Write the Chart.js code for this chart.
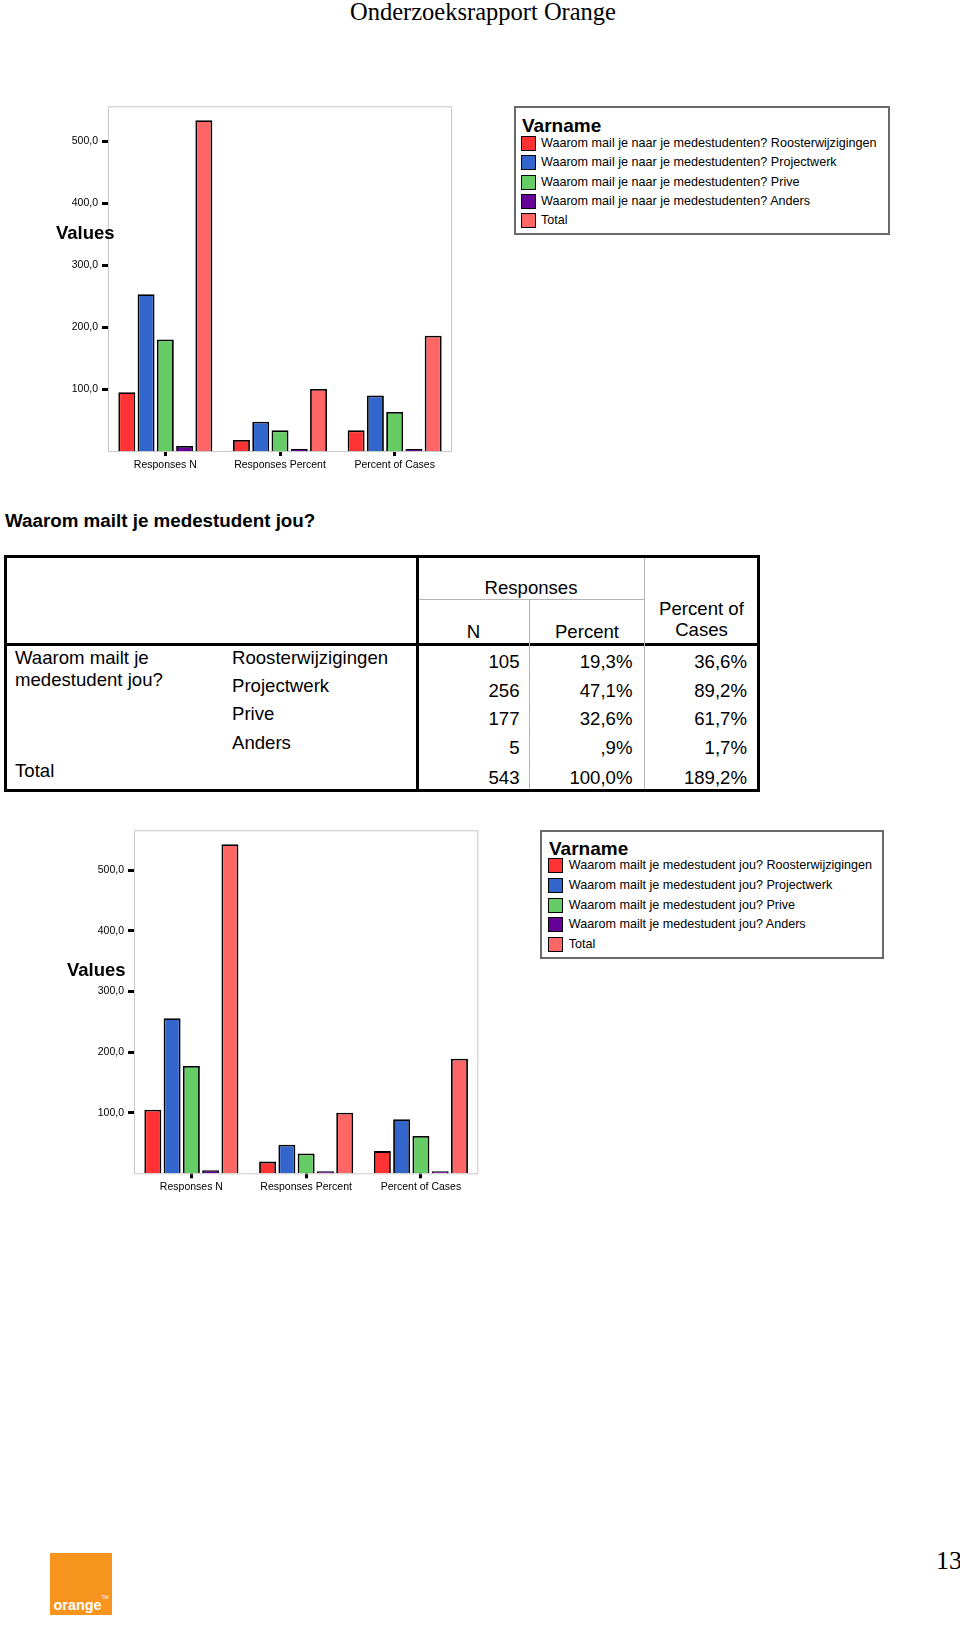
<!DOCTYPE html>
<html>
<head>
<meta charset="utf-8">
<title>Onderzoeksrapport Orange</title>
<script src="https://cdn.jsdelivr.net/npm/chart.js@4.4.1/dist/chart.umd.min.js"></script>
<style>
  html, body { margin: 0; padding: 0; background: #fff; }
  body { width: 960px; height: 1628px; position: relative; overflow: hidden;
         font-family: "Liberation Sans", Arial, sans-serif; color: #000; }
  .abs { position: absolute; white-space: nowrap; }
  .chartbox { position: absolute; width: 470px; height: 390px; }
  .values { font-weight: bold; font-size: 18.5px; line-height: 22px; }
  .legend { position: absolute; box-sizing: border-box; border: 2px solid #6a6a6a; }
  .varname { font-weight: bold; font-size: 19px; line-height: 22px; }
  .sw { position: absolute; box-sizing: border-box; width: 15px; height: 15px; border: 1px solid #000; }
  .ltext { font-size: 12.6px; line-height: 15px; }
  .cell { font-size: 18.6px; line-height: 22px; }
  .line { position: absolute; background: #000; }
  .thin { position: absolute; background: #b4b4b4; }
</style>
</head>
<body>

<div class="abs" style="left:0;width:966px;top:-3px;text-align:center;font-family:'Liberation Serif','Times New Roman',serif;font-size:24.5px;line-height:30px;">Onderzoeksrapport Orange</div>

<!-- chart 1 -->
<div class="chartbox" style="left:0;top:96px;"><canvas id="chart1"></canvas></div>
<div class="abs values" style="left:56px;top:222px;">Values</div>
<div class="legend" style="left:514px;top:106px;width:376px;height:129px;"></div>
<div class="abs varname" style="left:522px;top:115px;">Varname</div>
<div id="legend1"></div>

<!-- table -->
<div class="abs" style="left:5px;top:510px;font-weight:bold;font-size:18.8px;line-height:22px;">Waarom mailt je medestudent jou?</div>
<div id="table"></div>

<!-- chart 2 -->
<div class="chartbox" style="left:26px;top:820px;"><canvas id="chart2"></canvas></div>
<div class="abs values" style="left:67px;top:959px;">Values</div>
<div class="legend" style="left:540px;top:830px;width:344px;height:129px;"></div>
<div class="abs varname" style="left:549px;top:838px;">Varname</div>
<div id="legend2"></div>

<!-- footer -->
<div class="abs" style="left:49.5px;top:1553px;width:62px;height:62px;background:#f7941d;">
  <span class="abs" style="left:4px;bottom:3px;color:#fff;font-weight:bold;font-size:14.4px;line-height:14.4px;">orange</span>
  <span class="abs" style="left:52px;bottom:15px;color:#fff;font-size:5px;line-height:5px;">TM</span>
</div>
<div class="abs" style="left:936px;top:1548px;font-family:'Liberation Serif','Times New Roman',serif;font-size:26px;line-height:26px;">13</div>

<script>
Chart.defaults.font.family = '"Liberation Sans", Arial, sans-serif';
Chart.defaults.color = '#000';

const categories = ['Responses N', 'Responses Percent', 'Percent of Cases'];
const yTickValues = [100, 200, 300, 400, 500];
const yTickLabels = ['100,0', '200,0', '300,0', '400,0', '500,0'];
const seriesColors = ['#ff3333', '#3366cc', '#66cc66', '#660099', '#ff6666'];

// first chart: Waarom mail je naar je medestudenten?
const mailNames = [
  'Waarom mail je naar je medestudenten? Roosterwijzigingen',
  'Waarom mail je naar je medestudenten? Projectwerk',
  'Waarom mail je naar je medestudenten? Prive',
  'Waarom mail je naar je medestudenten? Anders',
  'Total'
];
const mailRooster = [95, 17.8, 33.3];
const mailProject = [253, 47.4, 89.5];
const mailPrive = [180, 33.3, 63];
const mailAnders = [8, 1.5, 2.7];
const mailTotal = [534, 100, 186];

// second chart + table: Waarom mailt je medestudent jou?
const answers = ['Roosterwijzigingen', 'Projectwerk', 'Prive', 'Anders'];
const respN = [105, 256, 177, 5, 543];
const respPercent = [19.3, 47.1, 32.6, 0.9, 100.0];
const casePercent = [36.6, 89.2, 61.7, 1.7, 189.2];
const mailtNames = answers.map(a => 'Waarom mailt je medestudent jou? ' + a).concat(['Total']);

const framePlugin = {
  id: 'frame',
  beforeDatasetsDraw(chart) {
    const { ctx, chartArea: a } = chart;
    ctx.save();
    ctx.strokeStyle = '#c8c8c8';
    ctx.lineWidth = 1;
    ctx.strokeRect(a.left + 0.5, a.top + 0.5, a.right - a.left - 1, a.bottom - a.top);
    ctx.restore();
  }
};

function makeChart(id, names, series, yMax, padRight, xHeight) {
  return new Chart(document.getElementById(id), {
    type: 'bar',
    data: {
      labels: categories,
      datasets: series.map((d, i) => ({
        label: names[i],
        data: d,
        backgroundColor: seriesColors[i],
        borderColor: '#000',
        borderWidth: 1.8,
        categoryPercentage: 0.84,
        barPercentage: 0.88,
        minBarLength: 2
      }))
    },
    options: {
      responsive: true,
      maintainAspectRatio: false,
      animation: false,
      layout: { padding: { top: 10, right: padRight, left: 0, bottom: 0 } },
      plugins: { legend: { display: false }, tooltip: { enabled: false } },
      scales: {
        x: {
          afterFit: s => { s.height = xHeight; },
          border: { display: false },
          grid: { offset: false, drawOnChartArea: false, tickLength: 5, lineWidth: 3, color: '#000' },
          ticks: { font: { size: 10.5 }, padding: 3, maxRotation: 0 }
        },
        y: {
          min: 0,
          max: yMax,
          afterFit: s => { s.width = 108; },
          afterBuildTicks: s => { s.ticks = yTickValues.map(v => ({ value: v })); },
          border: { display: false },
          grid: { drawOnChartArea: false, tickLength: 6, lineWidth: 3, color: '#000' },
          ticks: {
            font: { size: 10.5 },
            padding: 4,
            callback: v => yTickLabels[yTickValues.indexOf(v)]
          }
        }
      }
    },
    plugins: [framePlugin]
  });
}

function makeLegend(id, names, left, firstRow, gap) {
  const box = document.getElementById(id);
  names.forEach((n, i) => {
    const y = firstRow + i * gap;
    const sw = document.createElement('div');
    sw.className = 'sw';
    sw.style.left = left + 'px';
    sw.style.top = (y - 7.5) + 'px';
    sw.style.background = seriesColors[i];
    box.appendChild(sw);
    const t = document.createElement('div');
    t.className = 'abs ltext';
    t.style.left = (left + 20.5) + 'px';
    t.style.top = (y - 7.5) + 'px';
    t.textContent = n;
    box.appendChild(t);
  });
}

makeChart('chart1', mailNames, [mailRooster, mailProject, mailPrive, mailAnders, mailTotal], 556.5, 18, 35);
makeLegend('legend1', mailNames, 520.5, 143.3, 19.35);

const mailtSeries = respN.map((n, i) => [n, respPercent[i], casePercent[i]]);
makeChart('chart2', mailtNames, mailtSeries, 566, 17.7, 36.7);
makeLegend('legend2', mailtNames, 548.3, 865.7, 19.65);

// table
const fmtPct = v => v.toFixed(1).replace('.', ',').replace(/^0,/, ',') + '%';
const table = document.getElementById('table');
function addDiv(cls, style, text) {
  const d = document.createElement('div');
  d.className = cls;
  d.setAttribute('style', style);
  if (text !== undefined) d.innerHTML = text;
  table.appendChild(d);
}
// lines
addDiv('abs', 'left:4px;top:555px;width:756px;height:237px;box-sizing:border-box;border:3px solid #000;');
addDiv('line', 'left:4px;top:643px;width:756px;height:3px;');
addDiv('line', 'left:415.5px;top:555px;width:3px;height:237px;');
addDiv('thin', 'left:418.5px;top:599px;width:226px;height:1px;');
addDiv('thin', 'left:529px;top:600px;width:1px;height:189px;');
addDiv('thin', 'left:644px;top:558px;width:1px;height:231px;');
// header
addDiv('abs cell', 'left:418px;width:226px;text-align:center;top:577px;', 'Responses');
addDiv('abs cell', 'left:418px;width:111px;text-align:center;top:620.5px;', 'N');
addDiv('abs cell', 'left:530px;width:114px;text-align:center;top:620.5px;', 'Percent');
addDiv('abs cell', 'left:645px;width:113px;text-align:center;top:597.5px;line-height:21px;', 'Percent of<br>Cases');
// row labels
addDiv('abs cell', 'left:15px;top:647px;line-height:21.7px;', 'Waarom mailt je<br>medestudent jou?');
const labelRows = [658.3, 686, 714.3, 743.3];
answers.forEach((a, i) => addDiv('abs cell', 'left:232px;top:' + (labelRows[i] - 11.5) + 'px;', a));
addDiv('abs cell', 'left:15px;top:' + (771.7 - 11.5) + 'px;', 'Total');
// numbers
const numRows = [661.7, 691, 719.3, 748.3, 777.7];
respN.forEach((n, i) => {
  const top = numRows[i] - 11;
  addDiv('abs cell', 'right:' + (960 - 519.5) + 'px;top:' + top + 'px;', String(n));
  addDiv('abs cell', 'right:' + (960 - 632.5) + 'px;top:' + top + 'px;', fmtPct(respPercent[i]));
  addDiv('abs cell', 'right:' + (960 - 747) + 'px;top:' + top + 'px;', fmtPct(casePercent[i]));
});
</script>
</body>
</html>
